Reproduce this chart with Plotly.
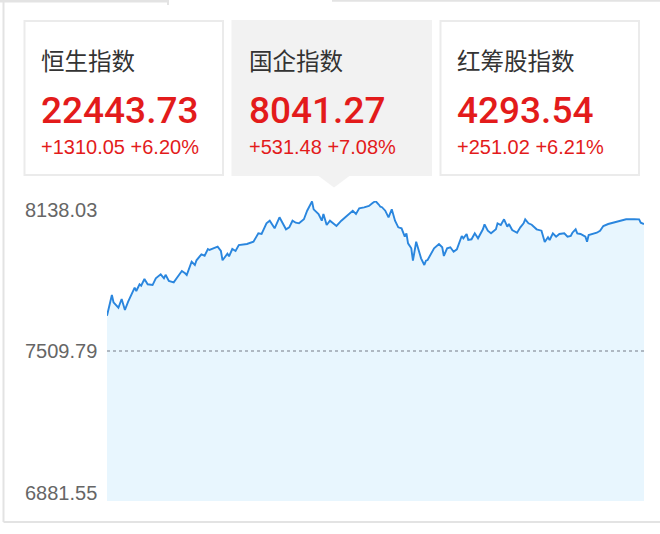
import plotly.graph_objects as go

# 指数卡片
index_names = ["恒生指数", "国企指数", "红筹股指数"]
index_prices = [22443.73, 8041.27, 4293.54]
index_changes = [1310.05, 531.48, 251.02]
index_pcts = [6.20, 7.08, 6.21]

# 国企指数 分时 (trading minute from 09:30, lunch break removed)
trade_minute = [
    0, 3, 4, 7, 9, 11, 13, 17, 18, 20, 21, 23, 25, 28, 30, 33, 35, 36, 38, 41,
    43, 46, 48, 49, 52, 54, 55, 58, 60, 62, 63, 66, 68, 70, 71, 74, 75, 77, 79, 81,
    84, 86, 90, 93, 95, 98, 100, 103, 106, 108, 110, 112, 114, 116, 118, 121, 123, 126, 127, 130,
    132, 133, 135, 137, 139, 141, 144, 147, 149, 151, 153, 155, 158, 161, 163, 165, 167, 168, 169, 171,
    173, 175, 177, 179, 181, 183, 184, 185, 187, 188, 190, 191, 193, 195, 196, 197, 199, 201, 204, 206,
    207, 209, 211, 213, 215, 218, 219, 221, 222, 224, 226, 228, 231, 232, 234, 236, 239, 240, 242, 244,
    246, 247, 249, 252, 254, 256, 257, 259, 261, 264, 267, 269, 271, 272, 274, 276, 278, 281, 283, 285,
    286, 288, 289, 291, 294, 295, 296, 299, 301, 303, 305, 308, 311, 314, 317, 319, 324, 327, 328, 330,
]
price = [
    7657.6, 7744.3, 7713.8, 7691.1, 7727.6, 7681.5, 7716.3, 7774.9, 7761.1, 7789.1,
    7783.3, 7811.3, 7789.1, 7786.0, 7814.3, 7831.0, 7814.3, 7829.0, 7803.0, 7797.5,
    7816.8, 7844.8, 7835.2, 7828.1, 7883.8, 7870.0, 7889.7, 7914.8, 7908.9, 7937.0,
    7932.8, 7942.4, 7946.6, 7928.6, 7889.7, 7917.3, 7906.4, 7937.0, 7928.6, 7953.7,
    7956.7, 7958.0, 7967.5, 8002.7, 7999.8, 8044.6, 8055.5, 8023.7, 8069.7, 8047.1,
    8019.5, 8027.8, 8055.5, 8047.1, 8044.6, 8061.4, 8097.4, 8136.5, 8103.2, 8083.6,
    8055.5, 8083.6, 8037.5, 8055.5, 8044.6, 8033.3, 8055.5, 8072.3, 8083.6, 8097.4,
    8083.6, 8107.4, 8111.6, 8117.1, 8128.4, 8138.03, 8123.3, 8114.1, 8112.0, 8097.4,
    8069.7, 8103.2, 8055.5, 8027.8, 8023.7, 7988.5, 8002.7, 7960.8, 7939.9, 7888.0,
    7967.5, 7946.6, 7898.0, 7870.0, 7888.0, 7890.9, 7916.0, 7939.9, 7957.9, 7944.1,
    7907.7, 7939.9, 7944.1, 7925.7, 7935.7, 7991.4, 7981.8, 7999.8, 7974.7, 7977.6,
    8002.7, 7981.8, 8019.5, 8040.4, 8013.6, 8002.7, 8019.5, 8044.6, 8037.5, 8061.4,
    8030.4, 8041.7, 8016.5, 8005.2, 8027.8, 8044.6, 8061.4, 8044.6, 8038.8, 8019.5,
    8013.6, 7966.3, 7986.0, 7974.7, 8002.7, 7988.5, 7999.8, 8002.7, 7988.5, 7991.4,
    8005.2, 8019.5, 8002.7, 7999.8, 7988.5, 7967.5, 7995.6, 8002.7, 8005.2, 8013.6,
    8033.3, 8041.7, 8047.1, 8050.1, 8055.5, 8061.4, 8061.4, 8061.0, 8047.1, 8041.27,
]
prev_close = 7509.79
axis_low, axis_high = 6881.55, 8138.03

W, H = 660, 534
RED = "#e31b1b"
BORDER = "#ebebeb"


def px(x):
    return x / W


def py(y):
    return 1 - y / H


def to_clock(m):
    # 09:30-12:00, 13:00-16:00
    if m <= 150:
        t = 9 * 60 + 30 + m
    else:
        t = 13 * 60 + (m - 150)
    return "%02d:%02d" % (t // 60, t % 60)


fig = go.Figure(go.Scatter(
    x=trade_minute,
    y=price,
    mode="lines",
    line=dict(color="#2a86de", width=1.9),
    fill="tozeroy",
    fillcolor="#e8f6fe",
    text=[to_clock(m) for m in trade_minute],
    hovertemplate="%{text}<br>%{y:.2f}<extra></extra>",
))

shapes = []
# outer frame
shapes.append(dict(type="line", xref="paper", yref="paper",
                   x0=px(3.5), x1=px(3.5), y0=py(0), y1=py(522),
                   line=dict(color="#e3e3e3", width=2)))
shapes.append(dict(type="line", xref="paper", yref="paper",
                   x0=px(3.5), x1=px(660), y0=py(522), y1=py(522),
                   line=dict(color="#e3e3e3", width=2)))
shapes.append(dict(type="line", xref="paper", yref="paper",
                   x0=px(0), x1=px(168), y0=py(1), y1=py(1),
                   line=dict(color="#e3e3e3", width=3)))
shapes.append(dict(type="line", xref="paper", yref="paper",
                   x0=px(168), x1=px(168), y0=py(0), y1=py(5),
                   line=dict(color="#e3e3e3", width=2)))
shapes.append(dict(type="line", xref="paper", yref="paper",
                   x0=px(332), x1=px(660), y0=py(0.8), y1=py(0.8),
                   line=dict(color="#e3e3e3", width=2)))

# cards
card_left = [24.5, 232.5, 440.5]
card_width = 198.5
for i, left in enumerate(card_left):
    selected = i == 1
    shapes.append(dict(
        type="rect", xref="paper", yref="paper",
        x0=px(left), x1=px(left + card_width), y0=py(175), y1=py(21),
        fillcolor="#f2f2f2" if selected else "white",
        line=dict(color="#f2f2f2" if selected else BORDER, width=2),
        layer="below",
    ))
# pointer under the selected card
shapes.append(dict(
    type="path", xref="paper", yref="paper",
    path="M %f,%f L %f,%f L %f,%f Z" % (px(316), py(174), px(352), py(174), px(334), py(187.5)),
    fillcolor="#f2f2f2", line=dict(width=0),
))
# previous close line
shapes.append(dict(
    type="line", xref="paper", yref="y",
    x0=px(107), x1=px(644), y0=prev_close, y1=prev_close,
    line=dict(color="#9aa4ae", width=1.3, dash="3px,3px"),
))

annotations = []
for i, left in enumerate(card_left):
    tx = px(left + 14)
    annotations.append(dict(
        xref="paper", yref="paper", x=tx, y=py(60), xanchor="left", yanchor="middle",
        text=index_names[i], showarrow=False,
        font=dict(family="Noto Sans CJK SC", size=23.5, color="#333333"),
    ))
    annotations.append(dict(
        xref="paper", yref="paper", x=tx, y=py(110.5), xanchor="left", yanchor="middle",
        text="%.2f" % index_prices[i], showarrow=False,
        font=dict(family="Roboto", size=37, color=RED, weight=500),
    ))
    annotations.append(dict(
        xref="paper", yref="paper", x=tx, y=py(147), xanchor="left", yanchor="middle",
        text="+%.2f +%.2f%%" % (index_changes[i], index_pcts[i]), showarrow=False,
        font=dict(family="Liberation Sans", size=20, color=RED),
    ))

# y labels
for val, anchor, shift in [(axis_high, "top", 4), (prev_close, "middle", 0), (axis_low, "bottom", -5)]:
    annotations.append(dict(
        xref="paper", yref="y", x=px(99), y=val, xanchor="right", yanchor=anchor,
        yshift=shift, text="%.2f" % val, showarrow=False,
        font=dict(family="Liberation Sans", size=20, color="#666666"),
    ))

fig.update_layout(
    width=W, height=H,
    margin=dict(l=0, r=0, t=0, b=0),
    paper_bgcolor="white",
    plot_bgcolor="white",
    showlegend=False,
    xaxis=dict(domain=[px(107), px(644)], range=[0, 330], visible=False, fixedrange=True),
    yaxis=dict(domain=[py(501), py(201)], range=[axis_low, axis_high], visible=False,
               fixedrange=True),
    shapes=shapes,
    annotations=annotations,
)

fig.write_html(
    "out.html",
    config={"displayModeBar": False},
    post_script="document.body.style.margin='0';document.body.style.overflow='hidden';",
)
